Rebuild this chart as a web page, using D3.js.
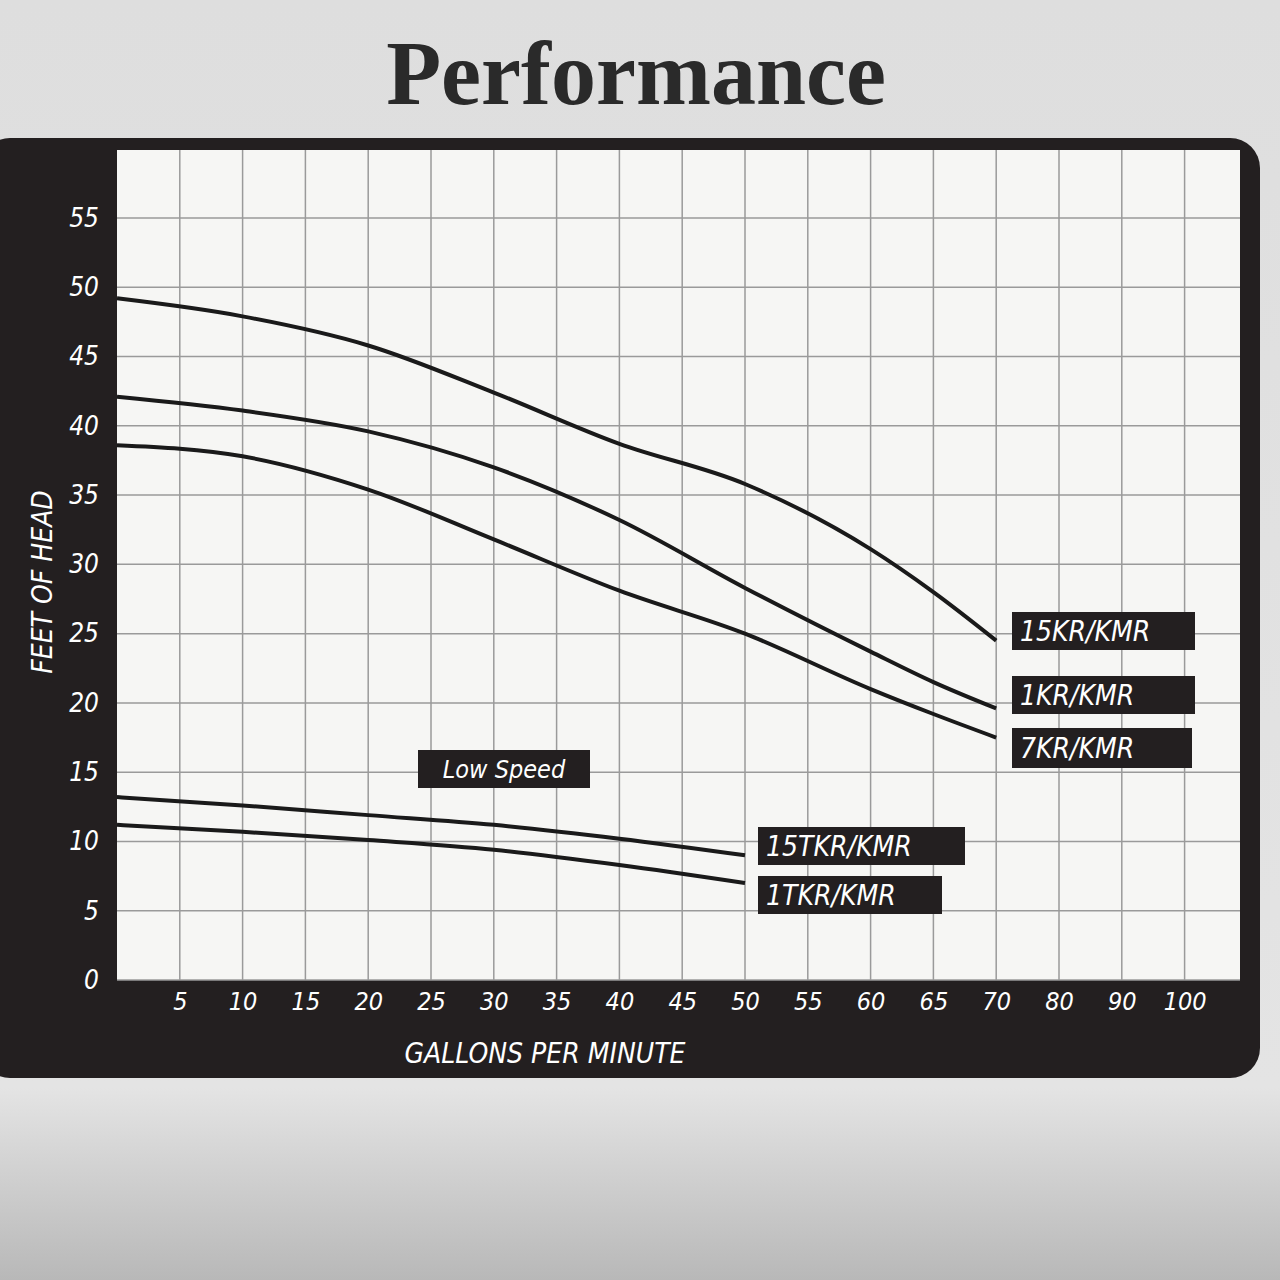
<!DOCTYPE html>
<html><head><meta charset="utf-8">
<script src="https://cdn.jsdelivr.net/npm/d3@7"></script>
<style>body{margin:0;}</style></head>
<body><svg id="c" width="1280" height="1280"></svg>
<script>
const xTicks=[5,10,15,20,25,30,35,40,45,50,55,60,65,70,80,90,100];
const yTicks=[0,5,10,15,20,25,30,35,40,45,50,55];
const gpm=[0,10,20,30,40,50,60,65,70];
const s15KR=[49.2,47.9,45.8,42.4,38.7,35.8,31.1,28.0,24.5];
const s1KR=[42.1,41.1,39.6,37.0,33.2,28.3,23.7,21.5,19.6];
const s7KR=[38.6,37.8,35.4,31.8,28.1,25.0,21.0,19.2,17.5];
const gpmLow=[0,10,20,30,40,50];
const s15TKR=[13.2,12.6,11.9,11.2,10.2,9.0];
const s1TKR=[11.2,10.7,10.1,9.4,8.3,7.0];
const series=[
 {name:"15KR/KMR",x:gpm,y:s15KR,box:[1012,612,183,38]},
 {name:"1KR/KMR",x:gpm,y:s1KR,box:[1012,676,183,38]},
 {name:"7KR/KMR",x:gpm,y:s7KR,box:[1012,728,180,40]},
 {name:"15TKR/KMR",x:gpmLow,y:s15TKR,box:[758,827,207,38]},
 {name:"1TKR/KMR",x:gpmLow,y:s1TKR,box:[758,876,184,38]}];
const svg=d3.select("#c");
const defs=svg.append("defs");
const g=defs.append("linearGradient").attr("id","bg").attr("x1",0).attr("y1",0).attr("x2",0).attr("y2",1);
g.append("stop").attr("offset","0").attr("stop-color","#dedede");
g.append("stop").attr("offset","0.85").attr("stop-color","#e4e4e4");
g.append("stop").attr("offset","1").attr("stop-color","#b8b8b8");
svg.append("rect").attr("width",1280).attr("height",1280).attr("fill","url(#bg)");
svg.append("text").attr("x",636).attr("y",104).attr("text-anchor","middle")
 .attr("font-family","Liberation Serif").attr("font-weight","bold").attr("font-size",90).attr("fill","#2a2a2a").text("Performance");
svg.append("rect").attr("x",-20).attr("y",138).attr("width",1280).attr("height",940).attr("rx",30).attr("fill","#231f20");
const L=117,R=1240,T=150,B=980;
svg.append("rect").attr("x",L).attr("y",T).attr("width",R-L).attr("height",B-T).attr("fill","#f6f6f4");
const idx=[0,...xTicks];
const x=d3.scaleLinear().domain(idx).range(idx.map((d,i)=>L+i*62.8));
const y=d3.scaleLinear().domain([0,55]).range([B,218]);
const gr=svg.append("g").attr("stroke","#9a9a9a").attr("stroke-width",1.5);
xTicks.forEach(t=>gr.append("line").attr("x1",x(t)).attr("x2",x(t)).attr("y1",T).attr("y2",B));
[...yTicks,60].forEach(t=>{if(y(t)>=T)gr.append("line").attr("x1",L).attr("x2",R).attr("y1",y(t)).attr("y2",y(t));});
const ff="'DejaVu Sans Condensed'";
const xa=svg.append("g").attr("transform",`translate(0,${B})`).call(d3.axisBottom(x).tickValues(xTicks).tickSize(0).tickPadding(12));
xa.select(".domain").remove();
xa.selectAll("text").attr("fill","#fff").attr("font-size",25).attr("font-style","italic").attr("font-family",ff);
const ya=svg.append("g").attr("transform",`translate(${L-10},0)`).call(d3.axisLeft(y).tickValues(yTicks).tickSize(0).tickPadding(8));
ya.select(".domain").remove();
ya.selectAll("text").attr("fill","#fff").attr("font-size",26).attr("font-style","italic").attr("font-family",ff);
svg.append("text").attr("transform","translate(52,582) rotate(-90)").attr("text-anchor","middle").attr("fill","#fff")
 .attr("font-size",28).attr("font-style","italic").attr("font-family",ff).text("FEET OF HEAD");
svg.append("text").attr("x",545).attr("y",1063).attr("text-anchor","middle").attr("fill","#fff")
 .attr("font-size",28).attr("font-style","italic").attr("font-family",ff).text("GALLONS PER MINUTE");
const line=d3.line().curve(d3.curveMonotoneX).x(d=>x(d[0])).y(d=>y(d[1]));
series.forEach(s=>{
 svg.append("path").attr("d",line(s.x.map((v,i)=>[v,s.y[i]]))).attr("fill","none").attr("stroke","#1a1a1a").attr("stroke-width",4);
 const [bx,by,bw,bh]=s.box;
 svg.append("rect").attr("x",bx).attr("y",by).attr("width",bw).attr("height",bh).attr("fill","#231f20");
 svg.append("text").attr("x",bx+8).attr("y",by+bh/2+10).attr("fill","#fff").attr("font-size",28).attr("font-style","italic").attr("font-family",ff).text(s.name);
});
svg.append("rect").attr("x",418).attr("y",750).attr("width",172).attr("height",38).attr("fill","#231f20");
svg.append("text").attr("x",504).attr("y",778).attr("text-anchor","middle").attr("fill","#fff").attr("font-size",25).attr("font-style","italic").attr("font-family",ff).text("Low Speed");
</script></body></html>
